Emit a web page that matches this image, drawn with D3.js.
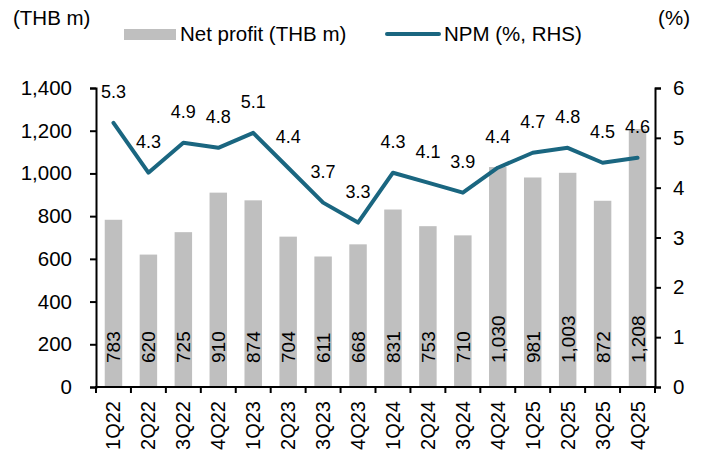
<!DOCTYPE html>
<html>
<head>
<meta charset="utf-8">
<script src="https://cdn.jsdelivr.net/npm/d3@7"></script>
<style>
  body { margin: 0; background: #fff; }
  svg text { font-family: "Liberation Sans", Arial, sans-serif; fill: #000; }
</style>
</head>
<body>
<div id="chart"></div>
<script>
const quarters = ["1Q22","2Q22","3Q22","4Q22","1Q23","2Q23","3Q23","4Q23",
                  "1Q24","2Q24","3Q24","4Q24","1Q25","2Q25","3Q25","4Q25"];
const netProfit = [783, 620, 725, 910, 874, 704, 611, 668, 831, 753, 710, 1030, 981, 1003, 872, 1208];
const npm = [5.3, 4.3, 4.9, 4.8, 5.1, 4.4, 3.7, 3.3, 4.3, 4.1, 3.9, 4.4, 4.7, 4.8, 4.5, 4.6];
const leftTicks = [0, 200, 400, 600, 800, 1000, 1200, 1400];
const rightTicks = [0, 1, 2, 3, 4, 5, 6];

const width = 705, height = 454;
const margin = { top: 88, right: 50, bottom: 67, left: 96 };

const barColor = '#bfbfbf';
const lineColor = '#1a6680';

const svg = d3.select('#chart').append('svg')
    .attr('width', width)
    .attr('height', height);

const x = d3.scaleBand()
    .domain(quarters)
    .range([margin.left, width - margin.right])
    .paddingInner(0.5)
    .paddingOuter(0.25);

// band boundaries for the category ticks
const step = x.step();
const xStart = margin.left;
const cx = (i) => x(quarters[i]) + x.bandwidth() / 2;

const yLeft = d3.scaleLinear().domain([0, 1400]).range([height - margin.bottom, margin.top]);
const yRight = d3.scaleLinear().domain([0, 6]).range([height - margin.bottom, margin.top]);

// Bars
svg.append('g')
    .selectAll('rect')
    .data(netProfit)
    .enter()
    .append('rect')
    .attr('x', (d, i) => x(quarters[i]))
    .attr('y', (d) => yLeft(d))
    .attr('width', x.bandwidth())
    .attr('height', (d) => yLeft(0) - yLeft(d))
    .attr('fill', barColor);

// Bar labels (inside base, rotated)
svg.append('g')
    .selectAll('text')
    .data(netProfit)
    .enter()
    .append('text')
    .attr('transform', (d, i) => `translate(${cx(i) + 7},${yLeft(0) - 24}) rotate(-90)`)
    .attr('text-anchor', 'start')
    .style('font-size', '19px')
    .text((d) => d3.format(',')(d));

// NPM line
const line = d3.line()
    .x((d, i) => cx(i))
    .y((d) => yRight(d));

svg.append('path')
    .datum(npm)
    .attr('d', line)
    .attr('fill', 'none')
    .attr('stroke', lineColor)
    .attr('stroke-width', 4)
    .attr('stroke-linejoin', 'round')
    .attr('stroke-linecap', 'round');

svg.append('g')
    .selectAll('text')
    .data(npm)
    .enter()
    .append('text')
    .attr('x', (d, i) => cx(i))
    .attr('y', (d) => yRight(d) - 25)
    .attr('text-anchor', 'middle')
    .style('font-size', '18px')
    .text((d) => d.toFixed(1));

// Axes
const axisLeft = d3.axisLeft(yLeft).tickValues(leftTicks).tickFormat(d3.format(',')).tickSize(6).tickPadding(18);
const axisRight = d3.axisRight(yRight).tickValues(rightTicks).tickFormat(d3.format('d')).tickSize(6).tickPadding(12);

const gl = svg.append('g')
    .attr('transform', `translate(${margin.left},0)`)
    .call(axisLeft);
const gr = svg.append('g')
    .attr('transform', `translate(${width - margin.right},0)`)
    .call(axisRight);

[gl, gr].forEach((g) => {
  g.select('.domain').attr('stroke', '#000').attr('stroke-width', 2);
  g.selectAll('.tick line').attr('stroke', '#000').attr('stroke-width', 2);
  g.selectAll('.tick text').style('font-size', '20.5px').attr('fill', '#000')
      .style('font-family', '"Liberation Sans", Arial, sans-serif');
});

// X axis line and ticks at band boundaries
const xAxisG = svg.append('g');
xAxisG.append('line')
    .attr('x1', margin.left - 1)
    .attr('x2', width - margin.right + 1)
    .attr('y1', yLeft(0))
    .attr('y2', yLeft(0))
    .attr('stroke', '#000')
    .attr('stroke-width', 2);

xAxisG.selectAll('.xtick')
    .data(d3.range(quarters.length + 1))
    .enter()
    .append('line')
    .attr('x1', (i) => xStart + i * step)
    .attr('x2', (i) => xStart + i * step)
    .attr('y1', yLeft(0))
    .attr('y2', yLeft(0) + 6)
    .attr('stroke', '#000')
    .attr('stroke-width', 2);

xAxisG.selectAll('.xlabel')
    .data(quarters)
    .enter()
    .append('text')
    .attr('transform', (d, i) => `translate(${cx(i) + 7},${yLeft(0) + 14}) rotate(-90)`)
    .attr('text-anchor', 'end')
    .style('font-size', '20px')
    .text((d) => d);

// Axis titles
svg.append('text')
    .attr('x', 13)
    .attr('y', 25)
    .style('font-size', '20.5px')
    .text('(THB m)');

svg.append('text')
    .attr('x', 690)
    .attr('y', 25)
    .attr('text-anchor', 'end')
    .style('font-size', '20.5px')
    .text('(%)');

// Legend
const legend = svg.append('g');
legend.append('rect')
    .attr('x', 124)
    .attr('y', 29)
    .attr('width', 52)
    .attr('height', 11)
    .attr('fill', barColor);
legend.append('text')
    .attr('x', 180)
    .attr('y', 41)
    .style('font-size', '20.5px')
    .text('Net profit (THB m)');

legend.append('line')
    .attr('x1', 387)
    .attr('x2', 439)
    .attr('y1', 34)
    .attr('y2', 34)
    .attr('stroke', lineColor)
    .attr('stroke-width', 4)
    .attr('stroke-linecap', 'round');
legend.append('text')
    .attr('x', 444)
    .attr('y', 41)
    .style('font-size', '20.5px')
    .text('NPM (%, RHS)');
</script>
</body>
</html>
